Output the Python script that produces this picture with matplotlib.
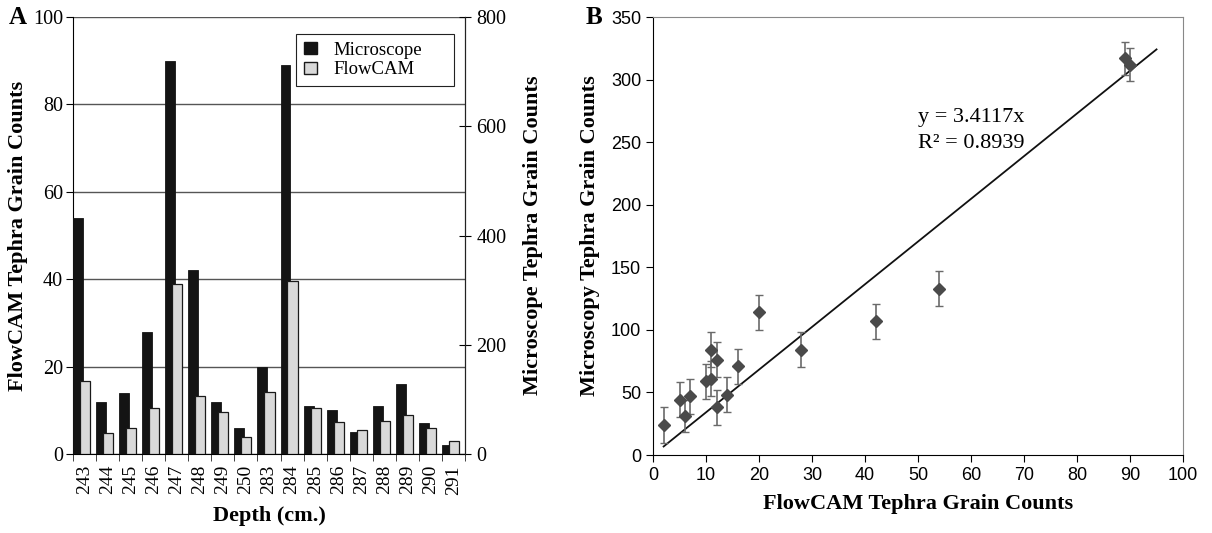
import matplotlib
matplotlib.use("Agg")
import matplotlib.pyplot as plt
from matplotlib.patches import Patch

SERIF = "Liberation Serif"
SANS = "Liberation Sans"

# panel A data
depths = ["243", "244", "245", "246", "247", "248", "249", "250", "283",
          "284", "285", "286", "287", "288", "289", "290", "291"]
black_counts = [54, 12, 14, 28, 90, 42, 12, 6, 20, 89, 11, 10, 5, 11, 16, 7, 2]        # left axis
gray_counts = [133, 38, 48, 84, 312, 107, 76, 31, 114, 317, 84, 59, 44, 61, 71, 47, 24]  # right axis

# panel B data
flowcam = [2, 5, 6, 7, 10, 11, 11, 12, 12, 14, 16, 20, 28, 42, 54, 89, 90]
microscopy = [24, 44, 31, 47, 59, 61, 84, 38, 76, 48, 71, 114, 84, 107, 133, 317, 312]
micro_err = [14, 14, 13, 14, 14, 14, 14, 14, 14, 14, 14, 14, 14, 14, 14, 13, 13]
slope = 3.4117
fit_x = [2, 95]

fig = plt.figure(figsize=(12.12, 5.33), dpi=100)
fig.patch.set_facecolor("white")

# ---------------- panel A ----------------
ax = fig.add_axes([0.0602, 0.1482, 0.3235, 0.8199])
ax2 = ax.twinx()
n = len(depths)
xs = list(range(n))
ax.bar([x - 0.5 for x in xs], black_counts, width=0.43, align="edge",
       color="#141414", edgecolor="#141414", linewidth=0.6, zorder=3)
ax2.bar([x - 0.2 for x in xs], gray_counts, width=0.44, align="edge",
        color="#d9d9d9", edgecolor="#1a1a1a", linewidth=0.9, zorder=3)

ax.set_xlim(-0.5, n - 0.5)
ax.set_ylim(0, 100)
ax2.set_ylim(0, 800)
ax.set_yticks([0, 20, 40, 60, 80, 100])
ax2.set_yticks([0, 200, 400, 600, 800])
ax.yaxis.grid(True, color="#555555", linewidth=1.0)
ax.set_axisbelow(True)

ax.set_xticks(xs)
ax.set_xticklabels(depths, rotation=90, fontsize=14, family=SERIF)
ax.set_xticks([x - 0.5 for x in range(n + 1)], minor=True)
ax.tick_params(axis="x", which="major", length=0, pad=8)
ax.tick_params(axis="x", which="minor", length=5, direction="out", color="#222222")
ax.tick_params(axis="y", length=5, direction="out", labelsize=14.5, pad=2)
ax2.tick_params(axis="y", length=8, direction="inout", labelsize=14.5, pad=4)
for a in (ax, ax2):
    for lbl in a.get_yticklabels():
        lbl.set_family(SERIF)
    a.spines["top"].set_visible(False)
ax2.spines["left"].set_visible(False)
ax2.spines["bottom"].set_visible(False)
ax2.spines["right"].set_color("#222222")

ax.set_ylabel("FlowCAM Tephra Grain Counts", family=SERIF, fontsize=16,
              fontweight="bold", labelpad=4)
ax2.set_ylabel("Microscope Tephra Grain Counts", family=SERIF, fontsize=16,
               fontweight="bold", labelpad=12)
ax.set_xlabel("Depth (cm.)", family=SERIF, fontsize=16, fontweight="bold", labelpad=8)

handles = [Patch(facecolor="#141414", edgecolor="#141414"),
           Patch(facecolor="#d9d9d9", edgecolor="#1a1a1a")]
leg = ax2.legend(handles, ["Microscope", "FlowCAM"], loc="upper left",
                 bbox_to_anchor=(0.569, 0.84, 0.403, 0.121), mode="expand",
                 prop={"family": SERIF, "size": 13.5},
                 fancybox=False, edgecolor="#222222", framealpha=1,
                 handlelength=0.7, handleheight=0.6, handletextpad=0.9,
                 borderpad=0.4, labelspacing=0.15, borderaxespad=0)
leg.get_frame().set_linewidth(0.8)

fig.text(0.007, 0.955, "A", family=SERIF, fontsize=18, fontweight="bold")

# ---------------- panel B ----------------
bx = fig.add_axes([0.5388, 0.1463, 0.4373, 0.8218])
bx.errorbar(flowcam, microscopy, yerr=micro_err, fmt="D", color="#4a4a4a",
            markersize=6, ecolor="#6a6a6a", elinewidth=1.2, capsize=3,
            capthick=1.0, zorder=3)
bx.plot(fit_x, [slope * v for v in fit_x], color="#111111", linewidth=1.3, zorder=2)
bx.text(50, 270, "y = 3.4117x", family=SERIF, fontsize=16, va="center")
bx.text(50, 249, "R² = 0.8939", family=SERIF, fontsize=16, va="center")

bx.set_xlim(0, 100)
bx.set_ylim(0, 350)
bx.set_xticks(range(0, 101, 10))
bx.set_yticks(range(0, 351, 50))
bx.tick_params(axis="both", length=5, direction="out", labelsize=13)
for lbl in bx.get_xticklabels() + bx.get_yticklabels():
    lbl.set_family(SANS)
for s in ("top", "right"):
    bx.spines[s].set_color("#888888")
bx.set_xlabel("FlowCAM Tephra Grain Counts", family=SERIF, fontsize=16,
              fontweight="bold", labelpad=7)
bx.set_ylabel("Microscopy Tephra Grain Counts", family=SERIF, fontsize=16,
              fontweight="bold", labelpad=8)

fig.text(0.483, 0.955, "B", family=SERIF, fontsize=18, fontweight="bold")

fig.savefig("out.png", dpi=100, facecolor="white")
